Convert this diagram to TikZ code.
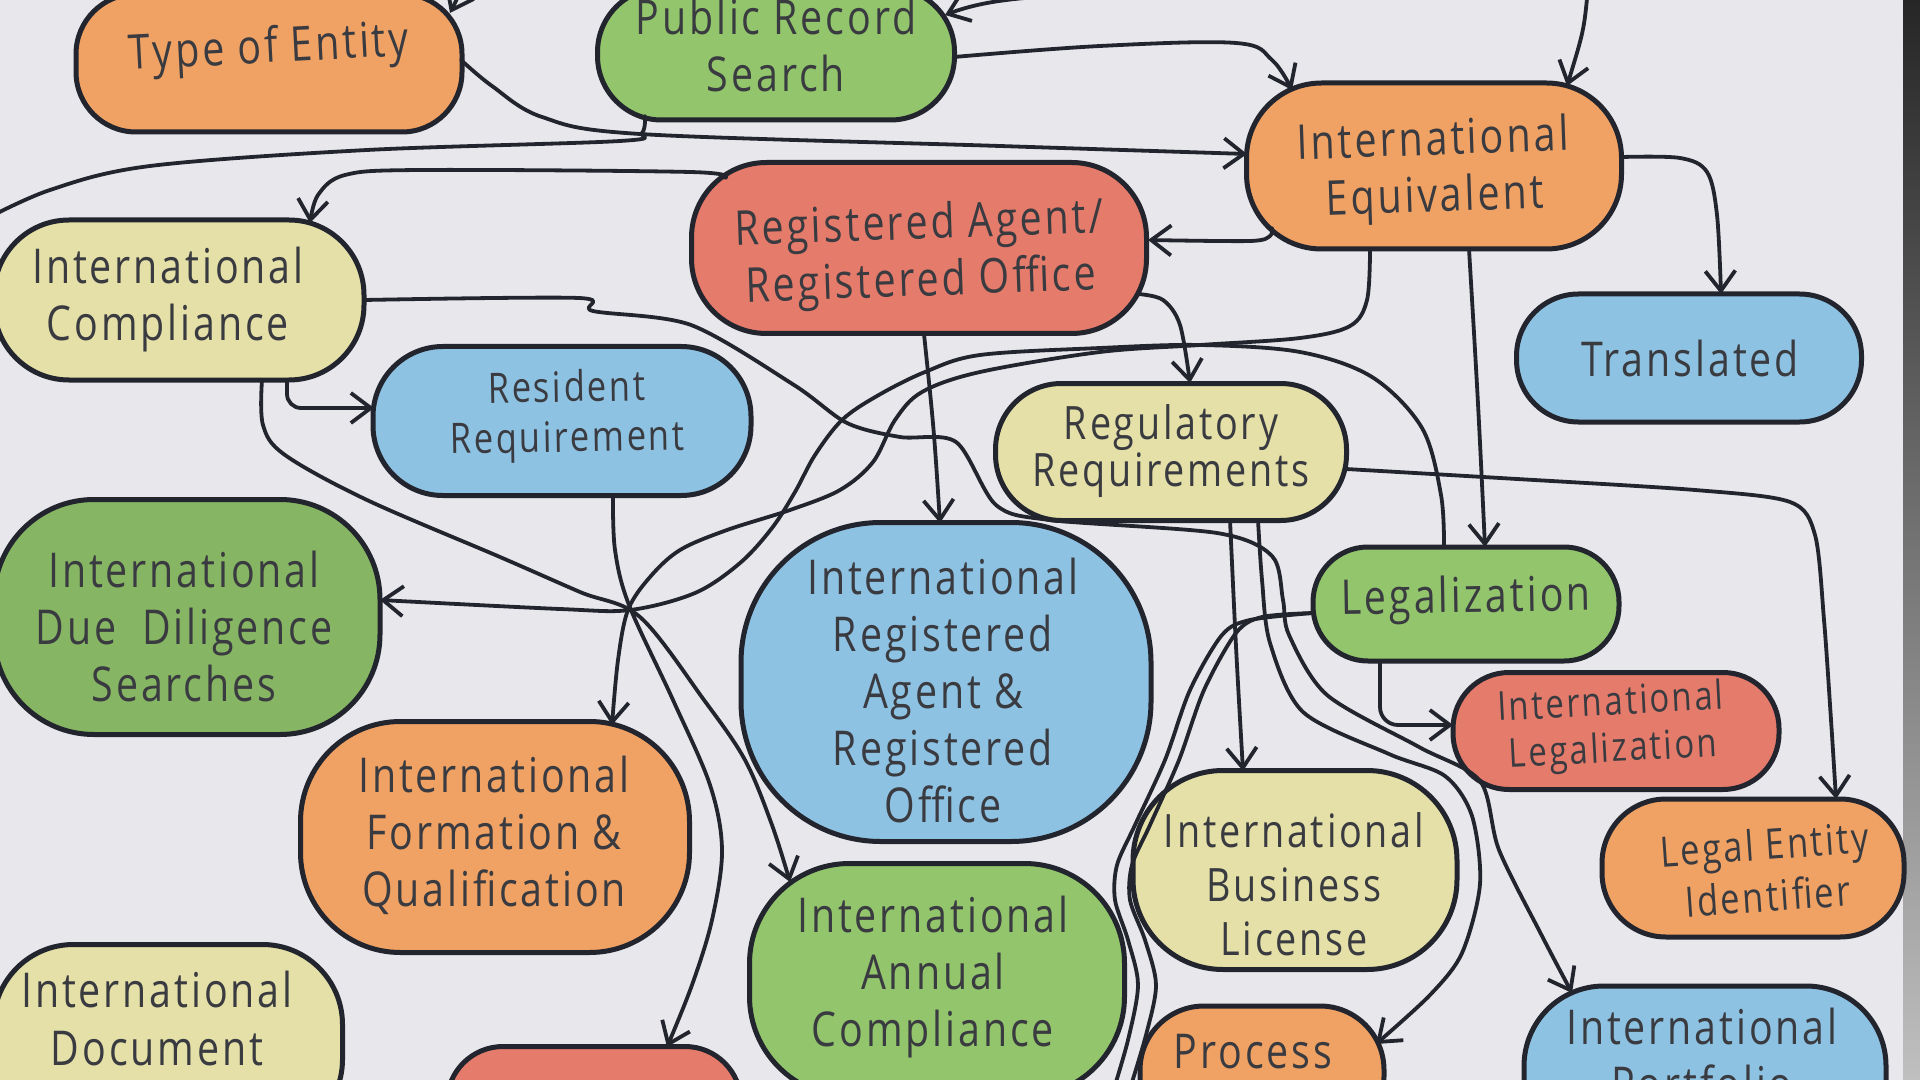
\documentclass[tikz,border=0pt]{standalone}
\usepackage{fontspec}
\newfontfamily\hand{Open Sans}[FakeStretch=0.82,LetterSpace=6]
\usetikzlibrary{arrows.meta,calc}
\definecolor{bgc}{HTML}{E8E7EC}
\definecolor{ink}{HTML}{23252E}
\definecolor{txtc}{HTML}{3A3B40}
\definecolor{orF}{HTML}{F0A264}
\definecolor{grF}{HTML}{92C56C}
\definecolor{reF}{HTML}{E57B6B}
\definecolor{blF}{HTML}{8EC2E2}
\definecolor{yeF}{HTML}{E4E0A8}
\tikzset{
  blob/.style={draw=ink, line width=2.5pt, inner sep=0pt},
  lbl/.style={font=\hand\fontsize{24}{28.5}\selectfont, text=txtc, align=center, inner sep=0pt},
  conn/.style={draw=ink, line width=1.9pt, line cap=round, line join=round},
  arr/.style={conn, -{Straight Barb[length=10pt,width=15pt]}},
}
\begin{document}
\begin{tikzpicture}[x=0.5pt,y=-0.5pt]
\useasboundingbox (0,0) rectangle (1920,1080);
\clip (0,0) rectangle (1920,1080);
\fill[bgc] (0,0) rectangle (1920,1080);
\shade[top color=black!85, bottom color=black!25] (1903,0) rectangle (1920,1080);

% boxes
\node[blob, fill=orF, minimum width=193pt, minimum height=69pt, rounded corners=30pt] (toe) at (269,63) {};
\node[blob, fill=grF, minimum width=178.5pt, minimum height=66pt, rounded corners=32pt] (prs) at (776,54) {};
\node[blob, fill=orF, minimum width=187.5pt, minimum height=83pt, rounded corners=37.5pt] (ie) at (1434,166) {};
\node[blob, fill=reF, minimum width=227.5pt, minimum height=85.5pt, rounded corners=37.5pt] (ra) at (919,248) {};
\node[blob, fill=yeF, minimum width=185pt, minimum height=80pt, rounded corners=37.5pt] (ic) at (179,300) {};
\node[blob, fill=blF, minimum width=172.5pt, minimum height=64pt, rounded corners=31pt] (tr) at (1689,358) {};
\node[blob, fill=blF, minimum width=189pt, minimum height=74.5pt, rounded corners=35pt] (rr) at (562,421) {};
\node[blob, fill=yeF, minimum width=175.5pt, minimum height=68.5pt, rounded corners=33pt] (rq) at (1171,452) {};
\node[blob, fill=grF!92!black, minimum width=193pt, minimum height=117.5pt, rounded corners=50pt] (dd) at (187,617) {};
\node[blob, fill=blF, minimum width=205pt, minimum height=159.5pt, rounded corners=70pt] (ira) at (946,682) {};
\node[blob, fill=grF, minimum width=153pt, minimum height=57pt, rounded corners=27.5pt] (lg) at (1466,604) {};
\node[blob, fill=reF, minimum width=163pt, minimum height=58.5pt, rounded corners=28pt] (il) at (1616,731) {};
\node[blob, fill=orF, minimum width=194.5pt, minimum height=115.5pt, rounded corners=50pt] (ifq) at (495,837) {};
\node[blob, fill=yeF, minimum width=162pt, minimum height=99.5pt, rounded corners=45pt] (ibl) at (1295,870) {};
\node[blob, fill=orF, minimum width=151pt, minimum height=69pt, rounded corners=32pt] (lei) at (1753,868) {};
\node[blob, fill=grF, minimum width=187.5pt, minimum height=116.5pt, rounded corners=50pt] (iac) at (937,980) {};
\node[blob, fill=yeF, minimum width=174.5pt, minimum height=97.5pt, rounded corners=40pt] (idoc) at (168,1042) {};
\node[blob, fill=orF, minimum width=122pt, minimum height=67pt, rounded corners=32pt] (proc) at (1262,1073) {};
\node[blob, fill=blF, minimum width=181pt, minimum height=87pt, rounded corners=40pt] (ipf) at (1705,1073) {};
\node[blob, fill=reF, minimum width=147pt, minimum height=56.5pt, rounded corners=28pt] (redb) at (594,1103) {};

% texts
\node[lbl, rotate=3] (toe-t) at (269,50) {Type of Entity};
\node[lbl] (prs-t) at (776,45) {Public Record\\Search};
\node[lbl, rotate=2] (ie-t) at (1434,171) {International\\Equivalent};
\node[lbl, rotate=2] (ra-t) at (920,255) {Registered Agent/\\Registered Office};
\node[lbl] (ic-t) at (168,300) {International\\Compliance};
\node[lbl] (tr-t) at (1690,359) {Translated};
\node[lbl, rotate=1, font=\hand\fontsize{21}{25}\selectfont] (rr-t) at (567,416) {Resident\\Requirement};
\node[lbl, font=\hand\fontsize{23}{23.5}\selectfont] (rq-t) at (1171,451) {Regulatory\\Requirements};
\node[lbl] (dd-t) at (184,626) {International\\Due\ \ Diligence\\Searches};
\node[lbl] (ira-t) at (943,690) {International\\Registered\\Agent \&\\Registered\\Office};
\node[lbl, rotate=1] (lg-t) at (1466,600) {Legalization};
\node[lbl, rotate=3, font=\hand\fontsize{20}{23.5}\selectfont] (il-t) at (1612,728) {International\\Legalization};
\node[lbl] (ifq-t) at (494,835) {International\\Formation \&\\Qualification};
\node[lbl, font=\hand\fontsize{23}{27}\selectfont] (ibl-t) at (1294,884) {International\\Business\\License};
\node[lbl, rotate=4, font=\hand\fontsize{21}{26}\selectfont] (lei-t) at (1766,870) {Legal Entity\\Identifier};
\node[lbl] (iac-t) at (933,977) {International\\Annual\\Compliance};
\node[lbl, font=\hand\fontsize{24}{29}\selectfont] (idoc-t) at (157,1018) {International\\Document};
\node[lbl] (proc-t) at (1253,1052) {Process};
\node[lbl] (ipf-t) at (1702,1055) {International\\Portfolio};

% free ends
\coordinate (c1) at (463,-25);
\coordinate (c2) at (1150,-6);
\coordinate (c3) at (1588,-12);
\coordinate (c6) at (-20,222);
\coordinate (c23) at (1128,1095);
\coordinate (c24) at (1112,1095);

% connectors
\draw[arr] (c1) .. controls (459,-5) .. ($(toe)+(181,-50)$);
\draw[arr] (c2) .. controls (1030,-6) and (985,0) .. ($(prs)+(169,-39)$);
\draw[arr] (c3) .. controls (1584,30) .. ($(ie)+(133,-80)$);
\draw[arr] plot[smooth, tension=0.6] coordinates {($(prs)+(178,3)$) (1100,46) (1236,43) (1272,60) ($(ie)+(-142,-76)$)};
\draw[arr] plot[smooth, tension=0.55] coordinates {($(toe)+(192,-3)$) (492,86) (542,117) (640,134) (1000,146) ($(ie)+(-187,-12)$)};
\draw[conn] plot[smooth, tension=0.55] coordinates {($(prs)+(-131,62)$) (642,133) (620,141) (367,150) (150,166) (50,190) (c6)};
\draw[arr] plot[smooth, tension=0.55] coordinates {($(ra)+(-194,-70)$) (690,172) (420,170) (345,175) (318,195) ($(ic)+(131,-77)$)};
\draw[arr] plot[smooth, tension=0.5] coordinates {($(ie)+(-162,62)$) (1270,236) (1250,241) ($(ra)+(229,-8)$)};
\draw[arr] plot[smooth, tension=0.55] coordinates {($(ie)+(188,-9)$) (1680,158) (1707,172) (1717,215) ($(tr)+(32,-64)$)};
\draw[arr] ($(ie)+(35,83)$) .. controls (1478,400) .. ($(lg)+(19,-57)$);
% Int Equivalent -> Formation
\draw[arr] plot[smooth, tension=0.55] coordinates {($(ie)+(-64,83)$) (1367,300) (1350,326) (1300,338) (1200,345) (1100,352) (980,372) (922,392) (895,420) (873,462) (840,490) (790,510) (727,530) (680,550) (650,577) (628,610) (618,660) ($(ifq)+(117,-112)$)};
% Legalization -> Due Diligence
\draw[arr] plot[smooth, tension=0.55] coordinates {($(lg)+(-22,-57)$) (1441,495) (1422,428) (1372,377) (1300,352) (1200,345) (1100,348) (980,355) (925,372) (877,396) (842,420) (815,455) (795,492) (772,528) (740,563) (695,593) (630,610) (560,609) ($(dd)+(193,-17)$)};
% Compliance -> Annual Compliance
\draw[arr] plot[smooth, tension=0.55] coordinates {($(ic)+(83,80)$) (263,425) (285,455) (367,500) (500,557) (580,592) (640,617) (704,700) (745,760) (772,825) ($(iac)+(-147,-98)$)};
% Resident -> red bottom
\draw[arr] plot[smooth, tension=0.55] coordinates {($(rr)+(51,75)$) (615,550) (629,605) (673,700) (710,785) (722,850) (712,920) (692,985) ($(redb)+(73,-56)$)};
% Compliance -> Resident
\draw[arr, rounded corners=7pt] ($(ic)+(108,80)$) |- ($(rr)+(-188,-13)$);
% Compliance -> Portfolio
\draw[arr] plot[smooth, tension=0.5] coordinates {($(ic)+(185,0)$) (579,298) (593,311) (691,325) (794,385) (847,423) (900,437) (956,442) (996,505) (1050,520) (1217,533) (1272,556) (1283,600) (1289,635) (1327,695) (1419,747) (1480,781) (1499,850) (1542,936) ($(ipf)+(-133,-80)$)};
\draw[arr] ($(ra)+(5,86)$) .. controls (934,430) .. ($(ira)+(-6,-159)$);
\draw[arr] plot[smooth, tension=0.55] coordinates {($(ra)+(219,46)$) (1163,300) (1180,325) ($(rq)+(19,-69)$)};
\draw[arr] ($(rq)+(59,68)$) .. controls (1236,650) .. ($(ibl)+(-52,-99)$);
% Regulatory -> Process
\draw[arr] plot[smooth, tension=0.5] coordinates {($(rq)+(87,68)$) (1262,580) (1270,643) (1303,712) (1389,754) (1445,776) (1472,816) (1480,884) (1462,953) (1430,995) ($(proc)+(114,-29)$)};
% Regulatory -> Legal Entity Identifier
\draw[arr] plot[smooth, tension=0.5] coordinates {($(rq)+(175,17)$) (1500,478) (1695,490) (1790,502) (1815,535) (1824,620) (1831,720) ($(lei)+(83,-69)$)};
% Legalization -> Int Legalization
\draw[arr, rounded corners=9pt] ($(lg)+(-86,57)$) |- ($(il)+(-163,-6)$);
% Legalization -> off bottom (pair)
\draw[conn] plot[smooth, tension=0.5] coordinates {($(lg)+(-153,9)$) (1262,617) (1236,633) (1204,690) (1179,760) (1150,825) (1132,865) (1130,900) (1145,940) (1156,985) (1146,1035) (c23)};
\draw[conn] plot[smooth, tension=0.5] coordinates {($(lg)+(-153,9)$) (1250,620) (1222,635) (1190,690) (1165,760) (1135,825) (1117,865) (1115,900) (1128,940) (1138,985) (1128,1040) (c24)};
\end{tikzpicture}
\end{document}
